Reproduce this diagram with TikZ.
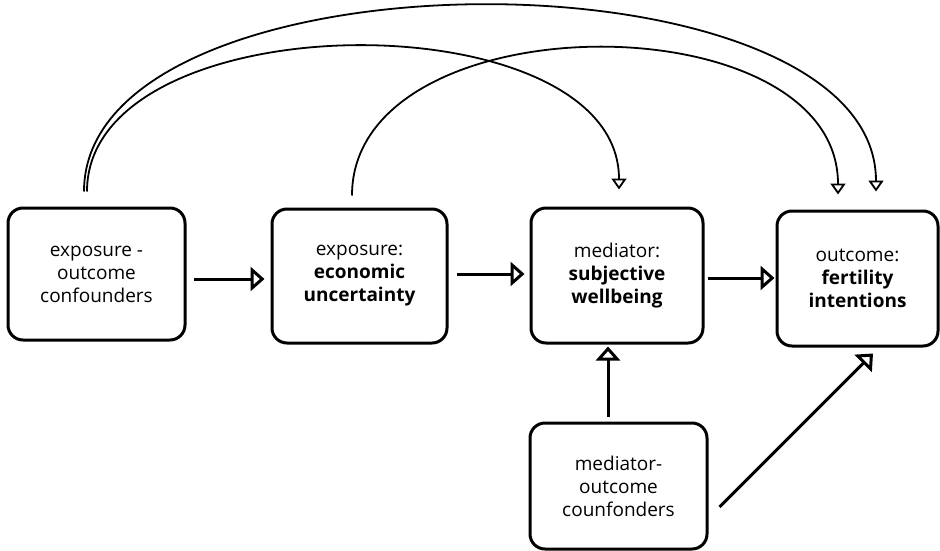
\documentclass[tikz,border=0pt]{standalone}
\usepackage{fontspec}
\setmainfont{Open Sans}
\usetikzlibrary{arrows.meta}
\tikzset{
  box/.style={draw, line width=3pt, rounded corners=15pt, align=center,
    font=\fontsize{19}{23}\selectfont, inner sep=0pt},
  thickarrow/.style={line width=3pt, -{Triangle[open, length=14pt, width=24pt, line width=3pt]}},
  curvearrow/.style={line width=1.8pt, -{Triangle[open, length=11pt, width=15pt, line width=1.8pt]}},
}
\begin{document}
\begin{tikzpicture}[x=1pt, y=-1pt]
\useasboundingbox (0,0) rectangle (940,551);
\node[box, minimum width=177pt, minimum height=132pt] (b1) at (96.5,274) {exposure -\\outcome\\confounders};
\node[box, minimum width=175pt, minimum height=134pt] (b2) at (359.5,276) {exposure:\\\textbf{economic}\\\textbf{uncertainty}};
\node[box, minimum width=172pt, minimum height=135pt] (b3) at (617,275.5) {mediator:\\\textbf{subjective}\\\textbf{wellbeing}};
\node[box, minimum width=161pt, minimum height=135pt] (b4) at (857.5,278.5) {outcome:\\\textbf{fertility}\\\textbf{intentions}};
\node[box, minimum width=177pt, minimum height=126pt] (b5) at (618.5,486) {mediator-\\outcome\\counfonders};
% straight arrows
\draw[thickarrow] ([xshift=7pt,yshift=-5pt]b1.east) -- ([xshift=-6pt,yshift=-3pt]b2.west);
\draw[thickarrow] ([xshift=8pt,yshift=2pt]b2.east) -- ([xshift=-5pt,yshift=1.5pt]b3.west);
\draw[thickarrow] ([xshift=3pt,yshift=-2.5pt]b3.east) -- ([xshift=-1pt,yshift=0.5pt]b4.west);
\draw[thickarrow] ([xshift=-10.5pt,yshift=5pt]b5.north) -- ([xshift=-9pt,yshift=-2pt]b3.south);
\draw[thickarrow] ([xshift=11pt,yshift=-21pt]b5.east) -- ([xshift=15.5pt,yshift=-6pt]b4.south);
% curved arrows
\draw[curvearrow] ([xshift=-12.5pt,yshift=15pt]b1.north) .. controls +(0,-248) and +(0,-248) .. ([xshift=18.5pt,yshift=18pt]b4.north);
\draw[curvearrow] ([xshift=-9.5pt,yshift=15pt]b1.north) .. controls +(0,-192) and +(0,-192) .. ([xshift=2pt,yshift=17pt]b3.north);
\draw[curvearrow] ([xshift=-7.5pt,yshift=12pt]b2.north) .. controls +(0,-196) and +(0,-196) .. ([xshift=-19.5pt,yshift=15pt]b4.north);
\end{tikzpicture}
\end{document}
